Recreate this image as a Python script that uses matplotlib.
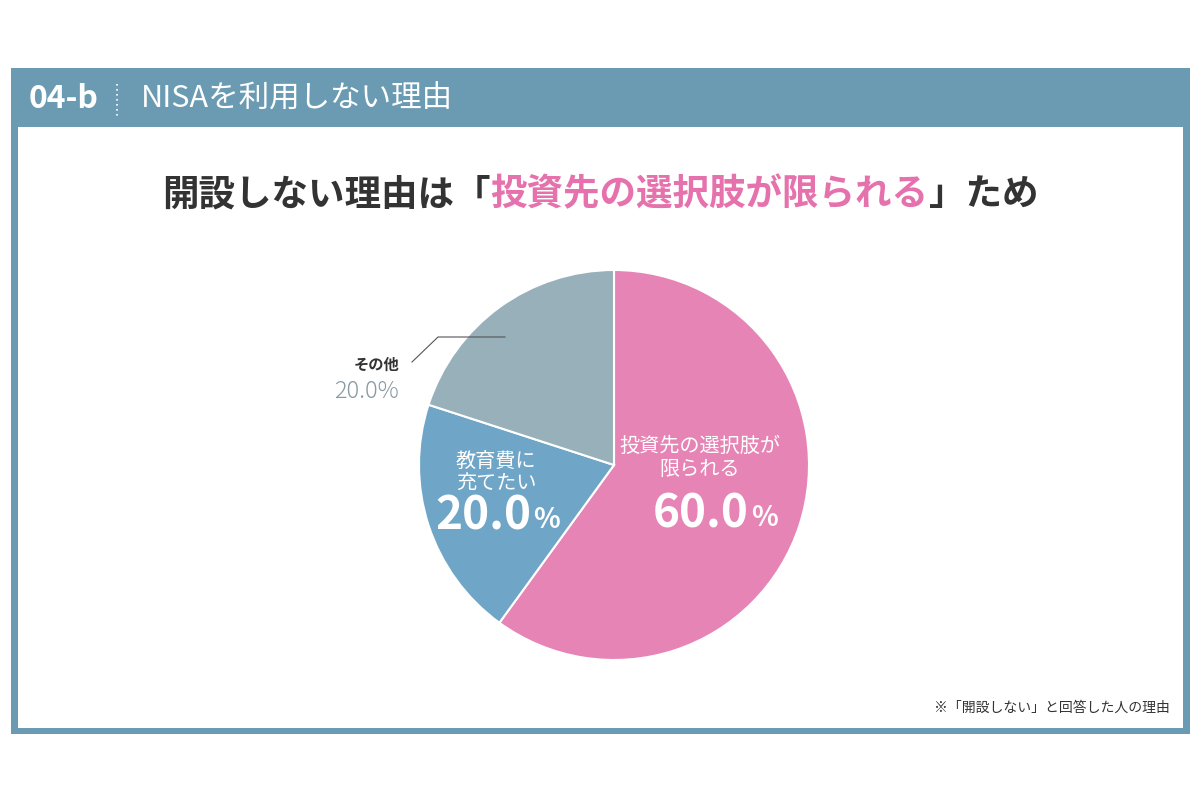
import numpy as np
import matplotlib.pyplot as plt
from matplotlib.patches import Rectangle

plt.rcParams['font.family'] = ['Noto Sans CJK JP', 'DejaVu Sans']

# data
labels = ['投資先の選択肢が\n限られる', '教育費に\n充てたい', 'その他']
values = [60.0, 20.0, 20.0]
colors = ['#e684b5', '#6fa6c7', '#98b0ba']

frame_col = '#6a9bb3'
W, H = 1200, 800

fig = plt.figure(figsize=(12, 8), dpi=100)

def px(x, y):
    return x / W, 1 - y / H

# frame
fig.patches.append(Rectangle(px(11, 734), 1179 / W, 666 / H, transform=fig.transFigure,
                             facecolor=frame_col, edgecolor='none', zorder=-2))
fig.patches.append(Rectangle(px(18, 728), 1165 / W, 601 / H, transform=fig.transFigure,
                             facecolor='white', edgecolor='none', zorder=-1))

# header
fig.text(*px(29, 99), '04-b', color='white', fontsize=23, fontweight='bold', va='center', ha='left')
fig.add_artist(plt.Line2D([117 / W, 117 / W], [1 - 84 / H, 1 - 116 / H], transform=fig.transFigure,
                          color='white', lw=1.2, ls=(0, (1, 2))))
fig.text(*px(141, 99), 'NISAを利用しない理由', color='white', fontsize=22, va='center', ha='left')

# title in three parts
renderer = fig.canvas.get_renderer()
parts = [('開設しない理由は「', '#333333'), ('投資先の選択肢が限られる', '#e672ad'), ('」ため', '#333333')]
texts = []
widths = []
for s, c in parts:
    t = fig.text(0, 1 - 195 / H, s, color=c, fontsize=26.3, fontweight='bold', va='center', ha='left')
    texts.append(t)
    widths.append(t.get_window_extent(renderer).width)
x0 = 600 - sum(widths) / 2
for t, w in zip(texts, widths):
    t.set_x(x0 / W)
    x0 += w

# pie
cx, cy, r = 614, 465, 195
ax = fig.add_axes([(cx - r) / W, (H - cy - r) / H, 2 * r / W, 2 * r / H])
ax.pie(values, colors=colors, startangle=90, counterclock=False,
       wedgeprops=dict(edgecolor='white', linewidth=1.5))
ax.set_xlim(-1, 1)
ax.set_ylim(-1, 1)

# labels inside pie
def fx(x):
    return (x - cx) / r

def fy(y):
    return (cy - y) / r

ax.text(fx(700), fy(458), labels[0], color='white', fontsize=14.5, ha='center', va='center', linespacing=1.1)
ax.text(fx(749), fy(514), '%.1f' % values[0], color='white', fontsize=33, fontweight='bold', ha='right', va='center')
ax.text(fx(751), fy(518), '%', color='white', fontsize=20, fontweight='bold', ha='left', va='center')

ax.text(fx(496), fy(473), labels[1], color='white', fontsize=14.5, ha='center', va='center', linespacing=1.1)
ax.text(fx(531), fy(516), '%.1f' % values[1], color='white', fontsize=33, fontweight='bold', ha='right', va='center')
ax.text(fx(533), fy(520), '%', color='white', fontsize=20, fontweight='bold', ha='left', va='center')

# outside label for その他
ax.plot([fx(505), fx(438), fx(412)], [fy(337), fy(337), fy(362)], color='#555555', lw=0.8, clip_on=False)
ax.text(fx(399), fy(365), labels[2], color='#333333', fontsize=11, fontweight='bold', ha='right', va='center')
ax.text(fx(399), fy(391), '%.1f%%' % values[2], color='#8a9aa2', fontsize=17, fontweight='light', ha='right', va='center')

# footnote
fig.text(*px(1170, 708), '※「開設しない」と回答した人の理由', color='#333333', fontsize=10, ha='right', va='center')

fig.savefig('out.png', dpi=100, facecolor='white')
